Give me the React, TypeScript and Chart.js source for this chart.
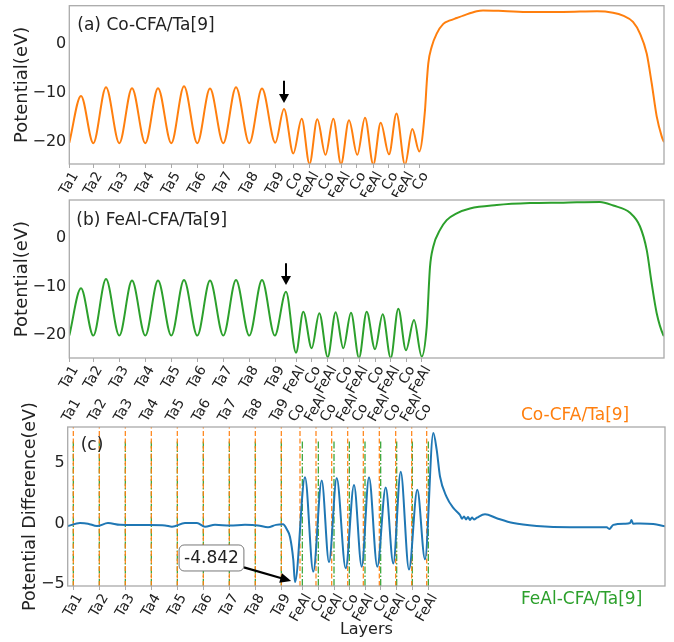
import React, { useEffect, useRef } from 'react';
import { Chart, registerables } from 'chart.js';

Chart.register(...registerables);
Chart.defaults.font.family = "'DejaVu Sans', sans-serif";
Chart.defaults.color = '#222222';

// ---------------- DATA ----------------
// Panel (a) Co-CFA/Ta[9]: position (arb. units along the stack) and potential (eV)
const A_Z = [0, 11.7, 24, 36.7, 50, 62.7, 76, 88.7, 102, 114.7, 128, 140.7, 154, 166.7, 180, 192.7, 206, 214.7, 224, 232.4, 240.2, 248, 256.2, 264, 271.7, 279.7, 288, 295.7, 304, 311.4, 319.7, 327.2, 335.7, 343, 350, 355.7, 357.4, 359, 362.4, 367.4, 374, 380.7, 387.4, 394, 407.4, 413.7, 433.7, 460.7, 493.7, 527.7, 543.7, 553.7, 563.7, 570.7, 577.4, 582.4, 587.4, 592.4, 594.7];
const A_V = [-20.2, -10.6, -20.3, -8.8, -20.3, -9.0, -20.3, -9.0, -20.3, -8.6, -20.3, -9.1, -20.3, -8.8, -20.3, -9.1, -20.2, -13.3, -22.4, -15.3, -24.6, -15.4, -22.7, -15.3, -24.6, -15.6, -22.7, -15.1, -24.7, -16.1, -22.6, -14.2, -24.7, -17.4, -22.0, -13.5, -8.0, -3.9, -0.5, 2.2, 4.2, 4.9, 5.4, 5.9, 6.8, 6.95, 6.85, 6.65, 6.65, 6.8, 6.5, 5.9, 4.6, 2.2, -1.9, -8.0, -14.8, -18.9, -20.1];
const A_TICK_POS = [0, 24, 50, 76, 102, 128, 154, 180, 206, 224, 240.5, 256, 272, 287.5, 304, 319.5, 335.5, 350];
const A_TICK_LABELS = ['Ta1', 'Ta2', 'Ta3', 'Ta4', 'Ta5', 'Ta6', 'Ta7', 'Ta8', 'Ta9', 'Co', 'FeAl', 'Co', 'FeAl', 'Co', 'FeAl', 'Co', 'FeAl', 'Co'];

// Panel (b) FeAl-CFA/Ta[9]
const B_Z = [0, 11.7, 24, 36.7, 50, 62.7, 76, 88.7, 102, 114.7, 128, 140.7, 154, 166.7, 180, 192.7, 205.5, 216.7, 226.7, 234, 242.4, 250, 258.4, 266.4, 274, 281.7, 289.7, 297.4, 305.7, 313.4, 321.4, 329, 336.7, 344.7, 352.4, 357.4, 360.7, 364, 370.7, 377.4, 387.4, 400.7, 427.4, 460.7, 494, 530.7, 544, 560.7, 570.7, 577.4, 582.4, 587.4, 594, 594.7];
const B_V = [-20.1, -10.4, -20.1, -8.5, -20.1, -8.8, -20.1, -8.8, -20.1, -8.7, -20.1, -8.8, -20.1, -8.7, -20.1, -8.7, -20.1, -11.1, -23.6, -15.2, -22.7, -15.5, -24.5, -15.3, -22.7, -15.4, -24.7, -15.2, -22.9, -15.7, -24.7, -14.6, -23.1, -16.9, -24.4, -18.3, -6.0, -1.8, 1.6, 3.6, 5.0, 6.0, 6.7, 7.1, 7.2, 7.35, 6.6, 5.1, 2.3, -2.5, -9.4, -15.5, -20.0, -20.2];
const B_TICK_POS = [0, 24, 50, 76, 102, 128, 154, 180, 206, 226.7, 242.4, 258.4, 274, 289.7, 305.7, 321.4, 336.7, 352.4];
const B_TICK_LABELS = ['Ta1', 'Ta2', 'Ta3', 'Ta4', 'Ta5', 'Ta6', 'Ta7', 'Ta8', 'Ta9', 'FeAl', 'Co', 'FeAl', 'Co', 'FeAl', 'Co', 'FeAl', 'Co', 'FeAl'];

// Panel (c) potential difference (eV)
const C_Z = [0, 12.3, 20.3, 29.3, 40.3, 52.3, 67.3, 82.3, 97.3, 104.3, 117.3, 129.3, 137.3, 147.3, 162.3, 177.3, 190.3, 200.3, 208.3, 215.3, 219.3, 222.3, 225.6, 227.3, 237.3, 245.6, 254, 261.3, 269, 278, 286.3, 294, 301.3, 309.6, 318, 325.6, 333, 341.3, 349.6, 357.3, 365.6, 369, 372.3, 379, 385.6, 392.3, 394.3, 396.3, 398.3, 400.3, 402.3, 404.3, 406.3, 409.3, 417.3, 429, 445.6, 469, 502.3, 539, 541.6, 545.6, 557.3, 562.3, 563.8, 565.3, 572.3, 585.6, 597.3];
const C_V = [-0.2, 0.05, 0.0, -0.2, 0.05, -0.1, -0.12, -0.12, -0.15, -0.25, 0.05, 0.05, -0.25, -0.1, -0.15, -0.1, -0.15, -0.3, -0.1, -0.05, -0.5, -1.1, -3.0, -4.842, 3.85, -3.97, 3.57, -3.2, 3.77, -3.7, 3.2, -3.56, 3.85, -3.56, 3.0, -3.3, 4.3, -3.8, 2.8, -2.95, 7.5, 6.1, 3.9, 2.2, 1.3, 0.72, 0.4, 0.6, 0.35, 0.55, 0.3, 0.5, 0.35, 0.5, 0.78, 0.45, 0.05, -0.19, -0.3, -0.3, -0.44, -0.1, 0.0, 0.05, 0.3, 0.0, 0.02, -0.03, -0.22];
const C_TOP_TICK_POS = [5.6, 31.6, 57.6, 83.6, 109.6, 135.6, 161.6, 187.6, 213.6, 232.3, 248.3, 264, 280, 295.6, 311.6, 328, 344, 359];
const C_TOP_LABELS = ['Ta1', 'Ta2', 'Ta3', 'Ta4', 'Ta5', 'Ta6', 'Ta7', 'Ta8', 'Ta9', 'Co', 'FeAl', 'Co', 'FeAl', 'Co', 'FeAl', 'Co', 'FeAl', 'Co'];
const C_BOTTOM_TICK_POS = [5.6, 31.6, 57.6, 83.6, 109.6, 135.6, 161.6, 187.6, 213.6, 234.6, 250.6, 266.3, 281.6, 297.3, 313, 329, 344.6, 360.6];
const C_BOTTOM_LABELS = ['Ta1', 'Ta2', 'Ta3', 'Ta4', 'Ta5', 'Ta6', 'Ta7', 'Ta8', 'Ta9', 'FeAl', 'Co', 'FeAl', 'Co', 'FeAl', 'Co', 'FeAl', 'Co', 'FeAl'];

const Y_TICKS_AB = [-20, -10, 0];
const Y_TICKS_C = [-5, 0, 5];
const MIN_LABEL = '-4.842';
const MIN_POINT = { z: 227.3, v: -4.842 };

// ---------------- STYLE / LAYOUT ----------------
const ORANGE = '#ff7f0e';
const GREEN = '#2ca02c';
const BLUE = '#1f77b4';
const FRAME = '#aaaaaa';
const W = 674;

const fmt = (v: number) => (v < 0 ? '\u2212' + Math.abs(v) : String(v));
const pts = (xs: number[], ys: number[]) => xs.map((x, i) => ({ x, y: ys[i] }));
const vlines = (xs: number[], y0: number, y1: number) => {
  const out: any[] = [];
  xs.forEach((x) => { out.push({ x, y: y0 }, { x, y: y1 }, { x, y: null }); });
  return out;
};

const framePlugin = {
  id: 'frame',
  afterDraw(chart: any) {
    const { ctx, chartArea: a } = chart;
    ctx.save();
    ctx.strokeStyle = FRAME;
    ctx.lineWidth = 1.3;
    ctx.strokeRect(a.left, a.top, a.right - a.left, a.bottom - a.top);
    ctx.restore();
  },
};

function textPlugin(items: { text: string; x: (a: any) => number; y: (a: any) => number; color: string; size: number }[]) {
  return {
    id: 'texts',
    afterDraw(chart: any) {
      const { ctx, chartArea } = chart;
      ctx.save();
      items.forEach((it) => {
        ctx.font = `${it.size}px 'DejaVu Sans', sans-serif`;
        ctx.fillStyle = it.color;
        ctx.textAlign = 'left';
        ctx.textBaseline = 'middle';
        ctx.fillText(it.text, it.x(chartArea), it.y(chartArea));
      });
      ctx.restore();
    },
  };
}

function downArrowPlugin(z: number, vFrom: number, vTo: number) {
  return {
    id: 'downArrow',
    afterDatasetsDraw(chart: any) {
      const { ctx, scales } = chart;
      const x = scales.x.getPixelForValue(z);
      const y0 = scales.y.getPixelForValue(vFrom);
      const y1 = scales.y.getPixelForValue(vTo);
      const head = 9;
      ctx.save();
      ctx.strokeStyle = '#000';
      ctx.fillStyle = '#000';
      ctx.lineWidth = 2;
      ctx.beginPath();
      ctx.moveTo(x, y0);
      ctx.lineTo(x, y1 - head + 1);
      ctx.stroke();
      ctx.beginPath();
      ctx.moveTo(x, y1);
      ctx.lineTo(x - 5, y1 - head);
      ctx.lineTo(x + 5, y1 - head);
      ctx.closePath();
      ctx.fill();
      ctx.restore();
    },
  };
}

const annotPlugin = {
  id: 'annot',
  afterDatasetsDraw(chart: any) {
    const { ctx, scales } = chart;
    const px = scales.x.getPixelForValue(MIN_POINT.z);
    const py = scales.y.getPixelForValue(MIN_POINT.v);
    const cx = scales.x.getPixelForValue(143.8);
    const cy = scales.y.getPixelForValue(-2.84);
    ctx.save();
    ctx.font = "17px 'DejaVu Sans', sans-serif";
    const tw = ctx.measureText(MIN_LABEL).width;
    const bw = tw + 10;
    const bh = 26;
    const dx = px - cx, dy = py - cy;
    const len = Math.hypot(dx, dy);
    const ux = dx / len, uy = dy / len;
    const t0 = Math.min(bw / 2 / Math.abs(ux), bh / 2 / Math.abs(uy));
    const sx = cx + ux * t0, sy = cy + uy * t0;
    const ex = px - ux * 4, ey = py - uy * 4;
    const head = 11, hw = 5;
    const bx = ex - ux * head, by = ey - uy * head;
    ctx.strokeStyle = '#000';
    ctx.lineWidth = 2.2;
    ctx.beginPath();
    ctx.moveTo(sx, sy);
    ctx.lineTo(bx + ux, by + uy);
    ctx.stroke();
    ctx.fillStyle = '#000';
    ctx.beginPath();
    ctx.moveTo(ex, ey);
    ctx.lineTo(bx - uy * hw, by + ux * hw);
    ctx.lineTo(bx + uy * hw, by - ux * hw);
    ctx.closePath();
    ctx.fill();
    ctx.beginPath();
    (ctx as any).roundRect(cx - bw / 2, cy - bh / 2, bw, bh, 5);
    ctx.fillStyle = '#ffffff';
    ctx.fill();
    ctx.strokeStyle = '#777777';
    ctx.lineWidth = 1;
    ctx.stroke();
    ctx.fillStyle = '#222222';
    ctx.textAlign = 'center';
    ctx.textBaseline = 'middle';
    ctx.fillText(MIN_LABEL, cx, cy + 1);
    ctx.restore();
  },
};

const zeroPad = (s: any) => { s.paddingTop = 0; s.paddingBottom = 0; s.paddingLeft = 0; s.paddingRight = 0; };

function xAxis(min: number, max: number, pos: number[], labels: string[], height: number, extra: any = {}) {
  return {
    type: 'linear',
    axis: 'x',
    min,
    max,
    afterBuildTicks: (s: any) => { s.ticks = pos.map((v) => ({ value: v })); },
    afterFit: (s: any) => { s.height = height; zeroPad(s); },
    grid: { display: true, drawOnChartArea: false, drawTicks: true, tickLength: 4, color: FRAME },
    border: { display: false },
    ticks: {
      autoSkip: false,
      minRotation: 60,
      maxRotation: 60,
      padding: 1,
      labelOffset: 6,
      font: { size: 14 },
      color: '#222222',
      callback: (_v: any, i: number) => labels[i],
    },
    ...extra,
  };
}

function yAxis(min: number, max: number, ticks: number[], width: number, title: string, titlePad: number, titleSize: number) {
  return {
    type: 'linear',
    min,
    max,
    afterBuildTicks: (s: any) => { s.ticks = ticks.map((v) => ({ value: v })); },
    afterFit: (s: any) => { s.width = width; zeroPad(s); },
    grid: { display: false, drawTicks: false },
    border: { display: false },
    ticks: { padding: 3, font: { size: 16 }, color: '#222222', callback: (v: number) => fmt(v) },
    title: { display: true, text: title, font: { size: titleSize }, color: '#222222', padding: { top: titlePad, bottom: 0 } },
  };
}

const baseOptions = {
  responsive: false,
  animation: false,
  devicePixelRatio: 1,
  events: [],
  plugins: { legend: { display: false }, tooltip: { enabled: false } },
};

function configA() {
  return {
    type: 'line',
    data: {
      datasets: [{ data: pts(A_Z, A_V), borderColor: ORANGE, borderWidth: 2, pointRadius: 0, cubicInterpolationMode: 'monotone' }],
    },
    options: {
      ...baseOptions,
      layout: { padding: { top: 5.7, right: W - 664, left: 0, bottom: 0 } },
      scales: {
        x: xAxis(0, 594.7, A_TICK_POS, A_TICK_LABELS, 33),
        y: yAxis(-24.58, 7.93, Y_TICKS_AB, 69.3, 'Potential(eV)', 12, 18),
      },
    },
    plugins: [
      framePlugin,
      downArrowPlugin(214.7, -7.5, -12.05),
      textPlugin([{ text: '(a) Co-CFA/Ta[9]', x: (a) => a.left + 8, y: (a) => a.top + 20, color: '#222222', size: 17 }]),
    ],
  };
}

function configB() {
  return {
    type: 'line',
    data: {
      datasets: [{ data: pts(B_Z, B_V), borderColor: GREEN, borderWidth: 2, pointRadius: 0, cubicInterpolationMode: 'monotone' }],
    },
    options: {
      ...baseOptions,
      layout: { padding: { top: 3, right: W - 664, left: 0, bottom: 0 } },
      scales: {
        x: xAxis(0, 594.7, B_TICK_POS, B_TICK_LABELS, 36),
        y: yAxis(-24.7, 7.74, Y_TICKS_AB, 69.3, 'Potential(eV)', 12, 18),
      },
    },
    plugins: [
      framePlugin,
      downArrowPlugin(216.7, -5.26, -9.7),
      textPlugin([{ text: '(b) FeAl-CFA/Ta[9]', x: (a) => a.left + 7, y: (a) => a.top + 21, color: '#222222', size: 17 }]),
    ],
  };
}

function configC() {
  const yMin = -5.16, yMax = 8.0;
  return {
    type: 'line',
    data: {
      datasets: [
        { data: pts(C_Z, C_V), borderColor: BLUE, borderWidth: 2, pointRadius: 0, cubicInterpolationMode: 'monotone', xAxisID: 'x', yAxisID: 'y' },
        { data: vlines(C_TOP_TICK_POS, yMin, yMax), borderColor: ORANGE, borderWidth: 1.2, borderDash: [5, 2.5], pointRadius: 0, spanGaps: false, xAxisID: 'x', yAxisID: 'y' },
        { data: vlines(C_BOTTOM_TICK_POS, yMin, 6.9), borderColor: GREEN, borderWidth: 1.2, borderDash: [7, 2, 1.5, 2], pointRadius: 0, spanGaps: false, xAxisID: 'x', yAxisID: 'y' },
      ],
    },
    options: {
      ...baseOptions,
      layout: { padding: { top: 0, right: W - 665, left: 0, bottom: 0 } },
      scales: {
        x: xAxis(0, 597.3, C_BOTTOM_TICK_POS, C_BOTTOM_LABELS, 56, {
          position: 'bottom',
          title: { display: true, text: 'Layers', font: { size: 16 }, color: '#222222', padding: { top: 0, bottom: 2.4 } },
        }),
        xTop: xAxis(0, 597.3, C_TOP_TICK_POS, C_TOP_LABELS, 33, {
          position: 'top',
          grid: { display: false, drawTicks: false },
          ticks: {
            autoSkip: false,
            minRotation: 60,
            maxRotation: 60,
            padding: 2,
            labelOffset: 7,
            font: { size: 14 },
            color: '#222222',
            callback: (_v: any, i: number) => C_TOP_LABELS[i],
          },
        }),
        y: yAxis(yMin, yMax, Y_TICKS_C, 67.7, 'Potential Difference(eV)', 20, 17.5),
      },
    },
    plugins: [
      framePlugin,
      annotPlugin,
      textPlugin([
        { text: '(c)', x: (a) => a.left + 13, y: (a) => a.top + 18.5, color: '#222222', size: 17 },
        { text: 'Co-CFA/Ta[9]', x: () => 521, y: () => 21.5, color: ORANGE, size: 17 },
        { text: 'FeAl-CFA/Ta[9]', x: () => 521, y: () => 205.5, color: GREEN, size: 17 },
      ]),
    ],
  };
}

function Panel({ top, height, make }: { top: number; height: number; make: () => any }) {
  const ref = useRef<HTMLCanvasElement>(null);
  useEffect(() => {
    const chart = new Chart(ref.current as HTMLCanvasElement, make() as any);
    return () => chart.destroy();
  }, []);
  return (
    <div style={{ position: 'absolute', left: 0, top, width: W, height }}>
      <canvas ref={ref} width={W} height={height} style={{ display: 'block', width: W, height }} />
    </div>
  );
}

export default function App() {
  return (
    <div style={{ position: 'absolute', left: 0, top: 0, width: W, height: 642, background: '#ffffff' }}>
      <Panel top={0} height={197} make={configA} />
      <Panel top={197} height={197} make={configB} />
      <Panel top={394} height={248} make={configC} />
    </div>
  );
}
